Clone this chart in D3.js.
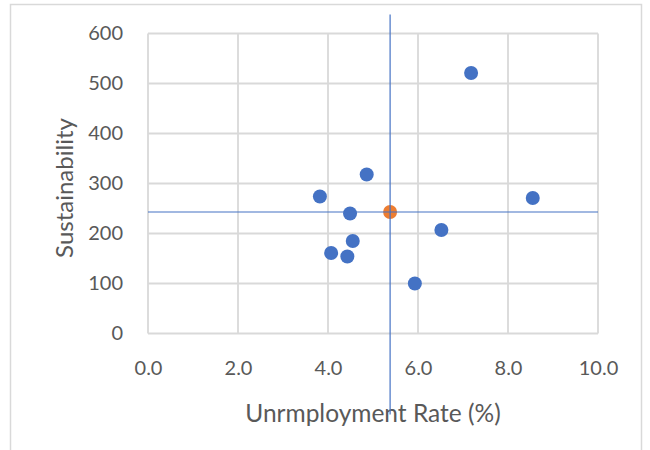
<!DOCTYPE html>
<html>
<head>
<meta charset="utf-8">
<script src="https://cdn.jsdelivr.net/npm/d3@7"></script>
<style>
  html, body { margin: 0; padding: 0; background: #fff; }
  svg { display: block; }
  text { font-family: Lato, "Open Sans", sans-serif; fill: #595959; }
</style>
</head>
<body>
<svg id="chart" width="650" height="450"></svg>
<script>
// Unemployment rate (%) and sustainability score for each observation
const unemployment = [4.86, 3.82, 4.49, 6.52, 4.55, 4.07, 4.43, 5.93, 7.18, 8.55];
const sustainability = [318, 274, 240, 207, 185, 161, 154, 100, 521, 271];

// Average point, marked in orange, with its cross-hair lines
const meanUnemployment = [5.38];
const meanSustainability = [243];

const xTicks = [0, 2, 4, 6, 8, 10];
const yTicks = [0, 100, 200, 300, 400, 500, 600];
const xTitle = "Unrmployment Rate (%)";
const yTitle = "Sustainability";

const svg = d3.select("#chart");

// outer chart frame
svg.append("rect")
  .attr("x", 10.5).attr("y", 4.5)
  .attr("width", 631).attr("height", 470)
  .attr("fill", "none").attr("stroke", "#d9d9d9").attr("stroke-width", 1.5);

const x = d3.scaleLinear().domain([0, 10]).range([148, 598]);
const y = d3.scaleLinear().domain([0, 600]).range([333.5, 33.5]);

// gridlines
const grid = svg.append("g").attr("stroke", "#d9d9d9").attr("stroke-width", 1.8);
grid.selectAll("line.v").data(xTicks).join("line")
  .attr("x1", d => x(d)).attr("x2", d => x(d))
  .attr("y1", y(0)).attr("y2", y(600));
grid.selectAll("line.h").data(yTicks).join("line")
  .attr("x1", x(0)).attr("x2", x(10))
  .attr("y1", d => y(d)).attr("y2", d => y(d));

// axes (labels only; lines come from the grid)
const xAxis = svg.append("g")
  .attr("transform", `translate(0,${y(0)})`)
  .call(d3.axisBottom(x).tickValues(xTicks).tickFormat(d3.format(".1f")).tickSize(0).tickPadding(27));
xAxis.select(".domain").remove();
xAxis.selectAll("text").attr("font-size", 20).attr("fill", "#595959")
  .style("font-family", "Lato, 'Open Sans', sans-serif");

const yAxis = svg.append("g")
  .attr("transform", `translate(${x(0)},0)`)
  .call(d3.axisLeft(y).tickValues(yTicks).tickFormat(d3.format("d")).tickSize(0).tickPadding(25));
yAxis.select(".domain").remove();
yAxis.selectAll("text").attr("font-size", 20).attr("fill", "#595959")
  .style("font-family", "Lato, 'Open Sans', sans-serif");

// axis titles
svg.append("text")
  .attr("x", 373).attr("y", 422)
  .attr("text-anchor", "middle")
  .attr("font-size", 24.5)
  .text(xTitle);

svg.append("text")
  .attr("transform", `translate(73,188) rotate(-90)`)
  .attr("text-anchor", "middle")
  .attr("font-size", 24)
  .text(yTitle);

// data points
const points = unemployment.map((u, i) => ({ u, s: sustainability[i] }));
svg.append("g").selectAll("circle").data(points).join("circle")
  .attr("cx", d => x(d.u)).attr("cy", d => y(d.s))
  .attr("r", 7)
  .attr("fill", "#4472c4");

// average point and cross-hair lines
const mean = meanUnemployment.map((u, i) => ({ u, s: meanSustainability[i] }));
svg.append("g").selectAll("circle").data(mean).join("circle")
  .attr("cx", d => x(d.u)).attr("cy", d => y(d.s))
  .attr("r", 7)
  .attr("fill", "#ed7d31");

const cross = svg.append("g").attr("stroke", "#4472c4").attr("stroke-width", 1.2);
mean.forEach(d => {
  cross.append("line")
    .attr("x1", x(0)).attr("x2", x(10))
    .attr("y1", y(d.s)).attr("y2", y(d.s));
  cross.append("line")
    .attr("x1", x(d.u)).attr("x2", x(d.u))
    .attr("y1", y(d.s + 395)).attr("y2", y(d.s - 405));
});
</script>
</body>
</html>
